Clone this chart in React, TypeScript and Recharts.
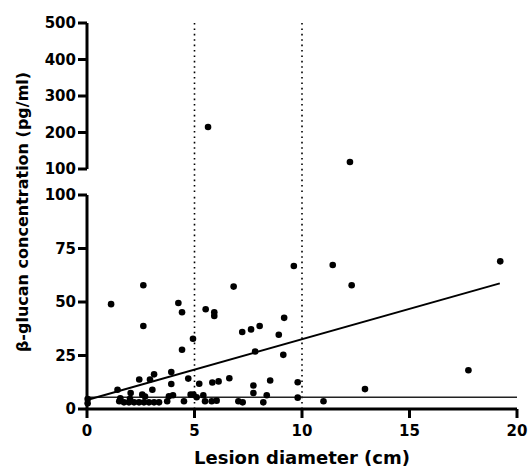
import React from 'react'
import { ReferenceLine, Scatter, ScatterChart, XAxis, YAxis, Label } from 'recharts'

// [lesion diameter (cm), beta-glucan (pg/ml)] for values up to 100
const lowPoints: [number, number][] = [
  [0.03, 4.7], [0.03, 2.7], [1.12, 49], [1.42, 9], [1.5, 3.6], [1.55, 5.0], [1.72, 3.1],
  [1.95, 3.1], [2.03, 7.5], [2.0, 4.8], [2.19, 3.1], [2.42, 3.1], [2.43, 13.8], [2.57, 6.7],
  [2.62, 57.8], [2.62, 38.8], [2.65, 3.1], [2.7, 5.8], [2.88, 3.1], [2.93, 13.8], [3.04, 9],
  [3.12, 16.2], [3.12, 3.1], [3.35, 3.1], [3.73, 3.6], [3.81, 5.9], [3.92, 17.3], [3.92, 11.7],
  [4.0, 6.4], [4.25, 49.5], [4.42, 45.2], [4.42, 27.7], [4.51, 3.6], [4.71, 14.2], [4.82, 6.7],
  [4.93, 32.8], [4.95, 6.7], [5.1, 5.5], [5.22, 11.8], [5.41, 6.4], [5.49, 3.6], [5.52, 46.6],
  [5.8, 3.6], [5.83, 12.4], [5.92, 45.2], [5.92, 43.5], [6.03, 3.9], [6.12, 12.9], [6.62, 14.4],
  [6.82, 57.2], [7.04, 3.6], [7.22, 36], [7.24, 3.1], [7.63, 37.2], [7.74, 11], [7.74, 7.5],
  [7.82, 26.9], [8.03, 38.8], [8.2, 3.1], [8.36, 6.4], [8.52, 13.3], [8.92, 34.7], [9.13, 25.3],
  [9.17, 42.6], [9.62, 66.8], [9.8, 12.5], [9.8, 5.3], [11.0, 3.6], [11.43, 67.3], [12.31, 57.8],
  [12.93, 9.3], [17.74, 18.1], [19.22, 69],
]

// values above the axis break
const highPoints: [number, number][] = [
  [5.63, 215],
  [12.23, 119],
]

const xTicks = [0, 5, 10, 15, 20]
const lowTicks = [0, 25, 50, 75, 100]
const highTicks = [100, 200, 300, 400, 500]
const sizeCutoffs = [5, 10]
const fitLine = [
  { x: 0, y: 4.2 },
  { x: 19.2, y: 58.7 },
]
const threshold = 5.5

const toXY = (pts: [number, number][]) => pts.map(([x, y]) => ({ x, y }))

const font = { fontFamily: 'DejaVu Sans', fontWeight: 700, fontSize: 15, fill: '#000' }
const axisStroke = { stroke: '#000', strokeWidth: 3 }

const Dot = (props: any) => <circle cx={props.cx} cy={props.cy} r={3.3} fill="#000" />

export default function App() {
  return (
    <div style={{ position: 'absolute', left: 0, top: 0, width: 530, height: 469, background: '#fff' }}>
      <div style={{ position: 'absolute', left: 0, top: 0 }}>
        <ScatterChart width={530} height={195} margin={{ top: 23, right: 13, bottom: 26, left: 0 }}>
          <XAxis type="number" dataKey="x" domain={[0, 20]} ticks={xTicks} hide />
          <YAxis
            type="number"
            dataKey="y"
            domain={[100, 500]}
            ticks={highTicks}
            width={87}
            tick={font}
            tickSize={9}
            axisLine={axisStroke}
            tickLine={axisStroke}
          />
          {sizeCutoffs.map((c) => (
            <ReferenceLine
              key={c}
              segment={[{ x: c, y: 500 }, { x: c, y: 30 }]}
              ifOverflow="visible"
              stroke="#000"
              strokeWidth={1.6}
              strokeDasharray="1.6 3.8"
            />
          ))}
          <Scatter data={toXY(highPoints)} shape={Dot} isAnimationActive={false} />
        </ScatterChart>
      </div>
      <div style={{ position: 'absolute', left: 0, top: 180 }}>
        <ScatterChart width={530} height={289} margin={{ top: 15, right: 13, bottom: 0, left: 0 }}>
          <XAxis
            type="number"
            dataKey="x"
            domain={[0, 20]}
            ticks={xTicks}
            height={60}
            tick={font}
            tickSize={9}
            tickMargin={7}
            axisLine={axisStroke}
            tickLine={axisStroke}
          >
            <Label
              value="Lesion diameter (cm)"
              position="insideBottom"
              offset={5}
              style={{ fontFamily: 'DejaVu Sans', fontWeight: 700, fontSize: 18, fill: '#000' }}
            />
          </XAxis>
          <YAxis
            type="number"
            dataKey="y"
            domain={[0, 100]}
            ticks={lowTicks}
            width={87}
            tick={font}
            tickSize={9}
            axisLine={axisStroke}
            tickLine={axisStroke}
          />
          {sizeCutoffs.map((c) => (
            <ReferenceLine key={c} x={c} stroke="#000" strokeWidth={1.6} strokeDasharray="1.6 3.8" />
          ))}
          <ReferenceLine y={threshold} stroke="#222" strokeWidth={1.3} />
          <ReferenceLine segment={fitLine} stroke="#000" strokeWidth={2} />
          <Scatter data={toXY(lowPoints)} shape={Dot} isAnimationActive={false} />
        </ScatterChart>
      </div>
      <div
        style={{
          position: 'absolute',
          left: 22,
          top: 212,
          transform: 'translate(-50%, -50%) rotate(-90deg)',
          whiteSpace: 'nowrap',
          fontFamily: 'DejaVu Sans',
          fontWeight: 700,
          fontSize: 16,
          color: '#000',
        }}
      >
        β-glucan concentration (pg/ml)
      </div>
    </div>
  )
}
